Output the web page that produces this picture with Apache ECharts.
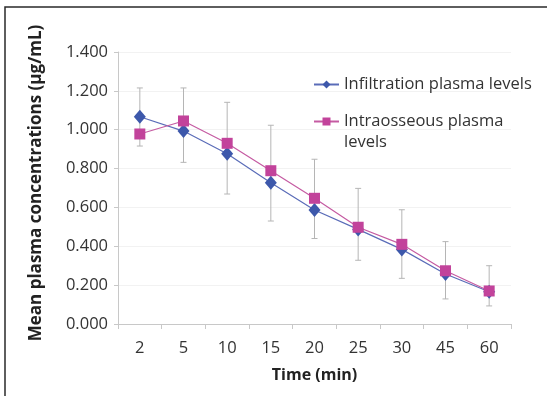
<!DOCTYPE html>
<html>
<head>
<meta charset="utf-8">
<script src="https://cdn.jsdelivr.net/npm/echarts@6/dist/echarts.min.js"></script>
<style>
  html, body { margin: 0; padding: 0; background: #fff; }
  #chart { width: 547px; height: 396px; }
</style>
</head>
<body>
<div id="chart"></div>
<script>
// time points (min)
var times = ['2', '5', '10', '15', '20', '25', '30', '45', '60']
// mean plasma concentrations (ug/mL)
var infiltration = [1.067, 0.993, 0.876, 0.727, 0.587, 0.487, 0.384, 0.257, 0.166]
var intraosseous = [0.978, 1.045, 0.930, 0.789, 0.647, 0.498, 0.410, 0.274, 0.170]
// error bar ends
var errLow  = [0.916, 0.832, 0.669, 0.530, 0.440, 0.328, 0.235, 0.129, 0.093]
var errHigh = [1.215, 1.215, 1.141, 1.023, 0.848, 0.698, 0.588, 0.424, 0.300]

var FONT = '"Open Sans", Lato, sans-serif'
var chart = echarts.init(document.getElementById('chart'), null, { renderer: 'canvas' })

var errData = times.map(function (t, i) { return [i, errLow[i], errHigh[i]] })

chart.setOption({
  animation: false,
  backgroundColor: '#fff',
  graphic: [{
    type: 'rect',
    shape: { x: 5, y: 7, width: 700, height: 500 },
    style: { fill: 'none', stroke: '#2a2a2a', lineWidth: 1.5 },
    silent: true
  }],
  grid: { left: 118, right: 36, top: 52, bottom: 72 },
  legend: [{
    data: ['Infiltration plasma levels'],
    orient: 'vertical',
    left: 308,
    top: 71,
    itemWidth: 25,
    itemHeight: 10,
    textStyle: { fontFamily: FONT, fontSize: 16.5, color: '#333' }
  }, {
    data: ['Intraosseous plasma levels'],
    // leading blank line keeps the first text line level with the icon
    formatter: function () { return ' \nIntraosseous plasma\nlevels' },
    orient: 'vertical',
    left: 308,
    top: 85,
    itemWidth: 25,
    itemHeight: 10,
    textStyle: { fontFamily: FONT, fontSize: 16.5, color: '#333', lineHeight: 21 }
  }],
  xAxis: {
    type: 'category',
    data: times,
    boundaryGap: true,
    name: 'Time (min)',
    nameLocation: 'middle',
    nameGap: 43,
    nameTextStyle: { fontFamily: FONT, fontSize: 16, fontWeight: 'bold', color: '#222' },
    axisLine: { lineStyle: { color: '#c8c8c8', width: 1 } },
    axisTick: { show: true, length: 5, lineStyle: { color: '#c8c8c8' } },
    axisLabel: { fontFamily: FONT, fontSize: 16.5, color: '#333', margin: 16 },
    splitLine: { show: false }
  },
  yAxis: {
    type: 'value',
    min: 0,
    max: 1.4,
    interval: 0.2,
    name: 'Mean plasma concentrations (\u03bcg/mL)',
    nameLocation: 'middle',
    nameGap: 73,
    nameTextStyle: { fontFamily: FONT, fontSize: 17, fontWeight: 'bold', color: '#222', padding: [0, 0, 0, 10] },
    axisLine: { show: true, lineStyle: { color: '#c8c8c8', width: 1 } },
    axisTick: { show: true, length: 4, lineStyle: { color: '#c8c8c8' } },
    axisLabel: {
      fontFamily: FONT, fontSize: 16.5, color: '#333', margin: 10,
      formatter: function (v) { return v.toFixed(3) }
    },
    splitLine: { show: true, lineStyle: { color: '#f2f2f2' } }
  },
  series: [{
    type: 'custom',
    name: 'err',
    z: 1,
    silent: true,
    data: errData,
    renderItem: function (params, api) {
      var x = api.value(0)
      var lo = api.coord([x, api.value(1)])
      var hi = api.coord([x, api.value(2)])
      var cap = 3
      var st = { stroke: '#b5b5b5', lineWidth: 1 }
      return {
        type: 'group',
        children: [
          { type: 'line', shape: { x1: lo[0], y1: lo[1], x2: hi[0], y2: hi[1] }, style: st },
          { type: 'line', shape: { x1: lo[0] - cap, y1: lo[1], x2: lo[0] + cap, y2: lo[1] }, style: st },
          { type: 'line', shape: { x1: hi[0] - cap, y1: hi[1], x2: hi[0] + cap, y2: hi[1] }, style: st }
        ]
      }
    }
  }, {
    type: 'line',
    name: 'Infiltration plasma levels',
    data: infiltration,
    z: 3,
    symbol: 'diamond',
    symbolSize: [12, 14],
    color: '#3d58ab',
    lineStyle: { color: '#5a6cb8', width: 1.2 },
    itemStyle: { color: '#3d58ab' }
  }, {
    type: 'line',
    name: 'Intraosseous plasma levels',
    data: intraosseous,
    z: 4,
    symbol: 'rect',
    symbolSize: 11,
    color: '#c2439b',
    lineStyle: { color: '#c55ba2', width: 1.2 },
    itemStyle: { color: '#c2439b' }
  }]
})
</script>
</body>
</html>
